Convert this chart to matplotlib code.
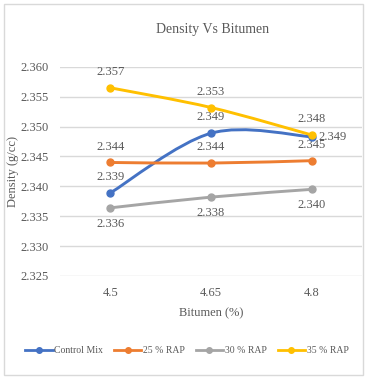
import matplotlib.pyplot as plt
from matplotlib.path import Path
from matplotlib.patches import PathPatch, Rectangle
import numpy as np

# values
bitumen = ["4.5", "4.65", "4.8"]
control_mix = [2.3389, 2.3489, 2.3483]
rap_25 = [2.3440, 2.3439, 2.3443]
rap_30 = [2.3364, 2.3382, 2.3395]
rap_35 = [2.3565, 2.3532, 2.3486]

control_labels = ["2.339", "2.349", "2.349"]
rap25_labels = ["2.344", "2.344", "2.345"]
rap30_labels = ["2.336", "2.338", "2.340"]
rap35_labels = ["2.357", "2.353", "2.348"]

yticks = [2.325, 2.330, 2.335, 2.340, 2.345, 2.350, 2.355, 2.360]

txt = "#595959"
plt.rcParams["font.family"] = ["Liberation Serif", "DejaVu Serif"]

fig = plt.figure(figsize=(3.68, 3.78), dpi=100)
fig.patches.append(Rectangle((0.011, 0.008), 0.976, 0.981, transform=fig.transFigure,
                             fill=False, edgecolor="#d9d9d9", linewidth=1))
ax = fig.add_axes([0.163, 0.270, 0.821, 0.553])


def smooth(ax, x, y, color):
    # excel-like smoothed line through the points (bezier segments)
    x = np.asarray(x, float)
    y = np.asarray(y, float)
    pts = np.column_stack([x, y])
    verts = [pts[0]]
    codes = [Path.MOVETO]
    n = len(pts)
    for i in range(n - 1):
        p0 = pts[i - 1] if i > 0 else pts[i]
        p1 = pts[i]
        p2 = pts[i + 1]
        p3 = pts[i + 2] if i + 2 < n else pts[i + 1]
        c1 = p1 + (p2 - p0) / 6
        c2 = p2 - (p3 - p1) / 6
        verts += [c1, c2, p2]
        codes += [Path.CURVE4] * 3
    ax.add_patch(PathPatch(Path(verts, codes), facecolor="none", edgecolor=color,
                           linewidth=2.1, capstyle="round", zorder=3))


xs = np.arange(len(bitumen))
series = [
    ("Control Mix", control_mix, "#4472C4"),
    ("25 % RAP", rap_25, "#ED7D31"),
    ("30 % RAP", rap_30, "#A5A5A5"),
    ("35 % RAP", rap_35, "#FFC000"),
]
for name, vals, col in series:
    smooth(ax, xs, vals, col)
    ax.plot(xs, vals, color=col, marker="o", markersize=5, linewidth=2,
            linestyle="none", zorder=4)
    ax.plot([], [], color=col, marker="o", markersize=4, linewidth=2, label=name)

fs = 9
for i in range(3):
    ax.annotate(control_labels[i] if i < 2 else "", (xs[i], control_mix[i]),
                xytext=(0, 7), textcoords="offset points", ha="center", va="bottom",
                fontsize=fs, color=txt)
    ax.annotate(rap25_labels[i], (xs[i], rap_25[i]), xytext=(0, 7),
                textcoords="offset points", ha="center", va="bottom", fontsize=fs, color=txt)
    ax.annotate(rap30_labels[i], (xs[i], rap_30[i]), xytext=(0, -7),
                textcoords="offset points", ha="center", va="top", fontsize=fs, color=txt)
    ax.annotate(rap35_labels[i], (xs[i], rap_35[i]), xytext=(0, 7),
                textcoords="offset points", ha="center", va="bottom", fontsize=fs, color=txt)
ax.annotate(control_labels[2], (xs[2], control_mix[2]), xytext=(5, 0),
            textcoords="offset points", ha="left", va="center", fontsize=fs, color=txt)

ax.set_xlim(-0.5, 2.5)
ax.set_ylim(2.325, 2.360)
ax.set_yticks(yticks)
ax.set_yticklabels([f"{v:.3f}" for v in yticks])
ax.set_xticks(xs)
ax.set_xticklabels(bitumen)
ax.tick_params(length=0, labelsize=fs, colors=txt, pad=8)
ax.grid(axis="y", color="#d9d9d9", linewidth=1)
ax.set_axisbelow(True)
for s in ax.spines.values():
    s.set_visible(False)

ax.set_xlabel("Bitumen (%)", fontsize=fs, color=txt, labelpad=6)
ax.set_ylabel("Density (g/cc)", fontsize=fs, color=txt, labelpad=1)
fig.text(0.578, 0.922, "Density Vs Bitumen", ha="center", va="center", fontsize=10, color=txt)

fig.legend(loc="center", bbox_to_anchor=(0.508, 0.073), ncol=4, frameon=False,
           fontsize=7, labelcolor=txt, handlelength=2.8, handletextpad=0.2,
           columnspacing=1.1, borderaxespad=0)

fig.savefig("out.png", dpi=100)
